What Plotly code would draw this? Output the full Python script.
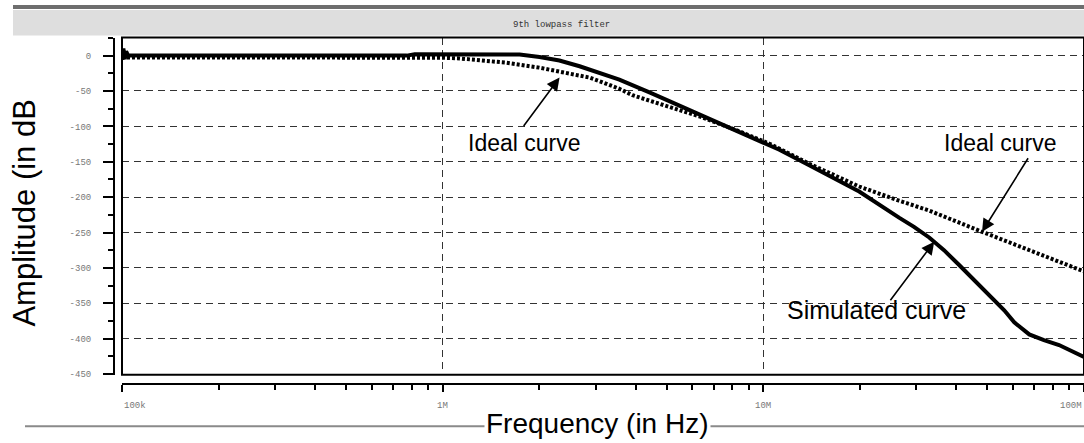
import numpy as np
import plotly.graph_objects as go

# Simulated response (solid)
sim_freq = [1.0e5, 1.01e5, 1.02e5, 1.03e5, 1.045e5, 3.0e5, 7.73e5, 8.18e5, 1.2e6, 1.738e6,
            2.005e6, 2.312e6, 2.673e6, 3.083e6, 3.556e6, 4.415e6, 6.32e6, 9.04e6, 1.122e7,
            1.39e7, 1.99e7, 2.65e7, 2.95e7, 3.29e7, 3.66e7, 4.08e7, 5.06e7, 5.64e7, 6.06e7,
            6.75e7, 7.5e7, 8.36e7, 1.0e8]
sim_db = [-6, 10, -5, 6, 0, 0, 0, 2, 2, 1.5,
          -2, -7, -15, -24, -34, -52, -83, -114, -133,
          -155, -192, -229, -242, -257, -275, -296, -338, -360, -377,
          -394, -402, -409, -426]

# Ideal response (dotted)
ideal_freq = [1.0e5, 5.0e5, 1.0e6, 1.13e6, 1.58e6, 2.0e6, 2.31e6, 2.87e6, 3.08e6, 3.56e6,
              3.91e6, 4.99e6, 6.32e6, 8.41e6, 1.045e7, 1.39e7, 1.99e7, 2.65e7, 3.29e7,
              4.81e7, 6.89e7, 1.0e8]
ideal_db = [-2.5, -2.5, -3, -4, -10, -17, -22.6, -31, -36, -47,
            -56, -71, -86, -107, -124.5, -152.8, -185, -205, -219,
            -249, -277, -305]

y_ticks = [0, -50, -100, -150, -200, -250, -300, -350, -400, -450]
y_labels = ["0", "-50", "-100", "-150", "-200", "-250", "-300", "-350", "-400", "-450"]
x_ticks = [1e5, 1e6, 1e7, 1e8]
x_labels = ["100k", "1M", "10M", "100M"]
x_minor = [m * d for d in [1e5, 1e6, 1e7] for m in range(2, 10)]

W, H = 1084, 443
px = lambda v: v / W
py = lambda v: 1 - v / H

fig = go.Figure()
fig.add_trace(go.Scatter(x=ideal_freq, y=ideal_db, mode="lines",
                         line=dict(color="black", width=4, dash="3px,2px")))
fig.add_trace(go.Scatter(x=sim_freq, y=sim_db, mode="lines",
                         line=dict(color="black", width=4)))

grid_col = "#333333"
fig.update_layout(
    width=W, height=H, showlegend=False,
    margin=dict(l=0, r=0, t=0, b=0),
    plot_bgcolor="white", paper_bgcolor="white",
    xaxis=dict(type="log", range=[5, 8], domain=[px(122), 1],
               anchor="free", position=py(388),
               tickvals=x_ticks, showticklabels=False,
               ticks="outside", ticklen=7, tickwidth=2, tickcolor="black",
               showline=True, linecolor="black", linewidth=2,
               showgrid=True, gridcolor=grid_col, gridwidth=1, griddash="7px,5px",
               minor=dict(tickvals=x_minor, ticks="outside", ticklen=5, tickwidth=2,
                          tickcolor="black", showgrid=False),
               zeroline=False),
    yaxis=dict(range=[-451, 25.5], domain=[py(379), py(38)],
               anchor="free", position=px(114),
               tickvals=y_ticks, ticktext=y_labels,
               ticks="outside", ticklen=10, tickwidth=2, tickcolor="black",
               ticklabelstandoff=10,
               tickfont=dict(family="Liberation Mono", size=9, color="#777777"),
               showline=True, linecolor="black", linewidth=2,
               showgrid=True, gridcolor=grid_col, gridwidth=1, griddash="7px,5px",
               minor=dict(dtick=25, tick0=0, ticks="outside", ticklen=5, tickwidth=2,
                          tickcolor="black", showgrid=False),
               zeroline=False),
)

shapes = [
    # top dark bar and title band
    dict(type="rect", xref="paper", yref="paper", x0=px(13), x1=1, y0=py(9), y1=py(5),
         fillcolor="#6e6e6e", line_width=0, layer="below"),
    dict(type="rect", xref="paper", yref="paper", x0=px(13), x1=1, y0=py(36), y1=py(10),
         fillcolor="#dedede", line_width=0, layer="below"),
    # plot frame
    dict(type="rect", xref="x domain", yref="y domain", x0=0, x1=1, y0=0, y1=1,
         line=dict(color="black", width=2)),
    # bottom gray rule
    dict(type="line", xref="paper", yref="paper", x0=px(25), x1=1, y0=py(431), y1=py(431),
         line=dict(color="#8a8a8a", width=2)),
]
fig.update_layout(shapes=shapes)

ann = []
ann.append(dict(text="9th lowpass filter", xref="paper", yref="paper", x=px(561), y=py(25),
                yanchor="middle", showarrow=False,
                font=dict(family="Liberation Mono", size=9, color="#333333")))
# x tick labels
anchors = ["left", "center", "center", "right"]
for v, t, a in zip(x_ticks, x_labels, anchors):
    ann.append(dict(text=t, xref="x", yref="paper", x=np.log10(v), y=py(411), xanchor=a,
                    yanchor="middle", showarrow=False,
                    font=dict(family="Liberation Mono", size=9, color="#777777")))
# axis titles
ann.append(dict(text="Frequency (in Hz)", xref="paper", yref="paper", x=px(597), y=py(428),
                xanchor="center", yanchor="middle", showarrow=False, bgcolor="white", borderpad=1,
                font=dict(family="Liberation Sans", size=28, color="black")))
ann.append(dict(text="Amplitude (in dB", xref="paper", yref="paper", x=px(25), y=py(216),
                xanchor="center", yanchor="middle", showarrow=False, textangle=-90,
                font=dict(family="Liberation Sans", size=31, color="black")))
# curve labels
lab_font = dict(family="Liberation Sans", size=23, color="black")
ann.append(dict(text="Ideal curve", xref="x", yref="y", x=6.2555, y=-123, showarrow=False, font=lab_font))
ann.append(dict(text="Ideal curve", xref="x", yref="y", x=7.741, y=-123, showarrow=False, font=lab_font))
ann.append(dict(text="Simulated curve", xref="x", yref="y", x=7.352, y=-359, showarrow=False,
                font=dict(family="Liberation Sans", size=25, color="black")))
# arrows
arr = dict(text="", showarrow=True, arrowhead=2, arrowsize=1.6, arrowwidth=1.6, arrowcolor="black",
           xref="x", yref="y")
ann.append(dict(arr, x=6.3645, y=-31, ax=-37, ay=50))
ann.append(dict(arr, x=7.682, y=-249, ax=47, ay=-75))
ann.append(dict(arr, x=7.533, y=-263, ax=-45, ay=60))
fig.update_layout(annotations=ann)

fig.write_html("out.html", config={"displayModeBar": False},
               post_script="document.body.style.margin='0px';")
